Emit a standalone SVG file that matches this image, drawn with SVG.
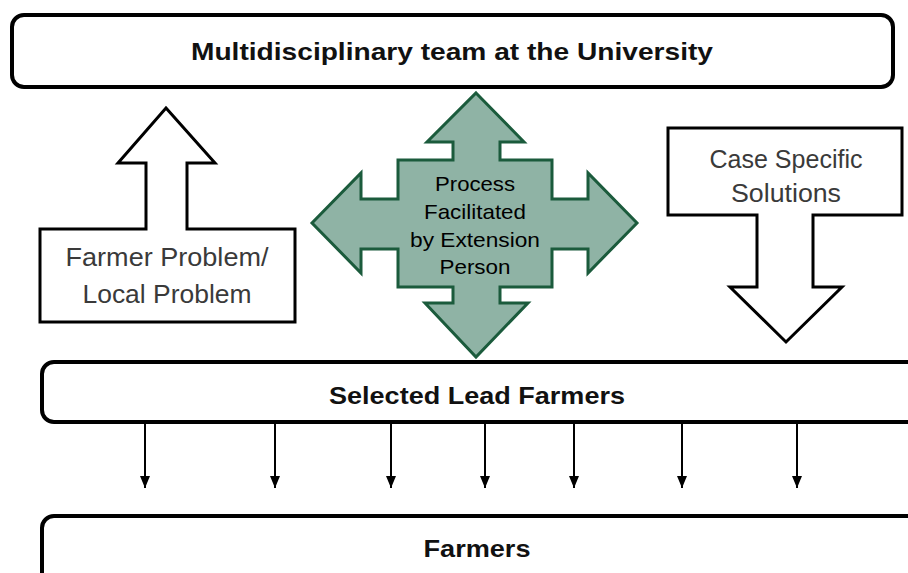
<svg xmlns="http://www.w3.org/2000/svg" width="908" height="573" viewBox="0 0 908 573">
<style>
.box{fill:#fff;stroke:#000;stroke-width:4}
.bt{font-family:"Liberation Sans",Arial,sans-serif;font-weight:bold;font-size:24px;fill:#111;text-anchor:middle}
.gt{font-family:"Liberation Sans",Arial,sans-serif;font-size:25px;fill:#3a3a3a;text-anchor:middle}
.ct{font-family:"Liberation Sans",Arial,sans-serif;font-size:21px;fill:#000;text-anchor:middle}
.ha{fill:#fff;stroke:#000;stroke-width:3;stroke-linejoin:miter}
.conn{stroke:#000;stroke-width:2;fill:none}
</style>
<defs>
<marker id="ah" viewBox="0 0 12 10" refX="12" refY="5" markerWidth="12" markerHeight="10" markerUnits="userSpaceOnUse" orient="auto">
<path d="M0,0 L12,5 L0,10 Z" fill="#000"/>
</marker>
</defs>
<rect width="908" height="573" fill="#fff"/>
<g id="university">
<rect class="box" x="12" y="15" width="881" height="72" rx="12"/>
<text class="bt" x="452" y="60" textLength="522" lengthAdjust="spacingAndGlyphs">Multidisciplinary team at the University</text>
</g>
<g id="farmer-problem">
<polygon class="ha" points="166,108 215,163 187,163 187,229 295,229 295,322 40,322 40,229 146,229 146,163 118,163"/>
<text class="gt" x="167" y="266" textLength="203" lengthAdjust="spacingAndGlyphs">Farmer Problem/</text>
<text class="gt" x="167" y="303" textLength="169" lengthAdjust="spacingAndGlyphs">Local Problem</text>
</g>
<g id="process">
<polygon points="476,93 524,142 500,142 500,160 552,160 552,199 588,199 588,173 637,223 588,273 588,249 552,249 552,287 500,287 500,303 528,303 476,357 425,303 453,303 453,287 398,287 398,249 361,249 361,273 312,223 361,173 361,199 398,199 398,160 453,160 453,142 427,142" fill="#8fb3a5" stroke="#1b5b3c" stroke-width="3"/>
<text class="ct" x="475" y="191" textLength="80" lengthAdjust="spacingAndGlyphs">Process</text>
<text class="ct" x="475" y="219" textLength="102" lengthAdjust="spacingAndGlyphs">Facilitated</text>
<text class="ct" x="475" y="247" textLength="130" lengthAdjust="spacingAndGlyphs">by Extension</text>
<text class="ct" x="475" y="274" textLength="71" lengthAdjust="spacingAndGlyphs">Person</text>
</g>
<g id="solutions">
<polygon class="ha" points="668,128 902,128 902,215 813,215 813,287 842,287 786,342 730,287 757,287 757,215 668,215"/>
<text class="gt" x="786" y="168" textLength="153" lengthAdjust="spacingAndGlyphs">Case Specific</text>
<text class="gt" x="786" y="202" textLength="110" lengthAdjust="spacingAndGlyphs">Solutions</text>
</g>
<g id="lead-farmers">
<rect class="box" x="42" y="362" width="890" height="60" rx="12"/>
<text class="bt" x="477" y="404" textLength="296" lengthAdjust="spacingAndGlyphs">Selected Lead Farmers</text>
</g>
<g id="farmers">
<rect class="box" x="42" y="516" width="890" height="80" rx="12"/>
<text class="bt" x="477" y="557" textLength="107" lengthAdjust="spacingAndGlyphs">Farmers</text>
</g>
<g id="connectors">
<line class="conn" x1="145" y1="424" x2="145" y2="488" marker-end="url(#ah)"/>
<line class="conn" x1="275" y1="424" x2="275" y2="488" marker-end="url(#ah)"/>
<line class="conn" x1="391" y1="424" x2="391" y2="488" marker-end="url(#ah)"/>
<line class="conn" x1="485" y1="424" x2="485" y2="488" marker-end="url(#ah)"/>
<line class="conn" x1="574" y1="424" x2="574" y2="488" marker-end="url(#ah)"/>
<line class="conn" x1="682" y1="424" x2="682" y2="488" marker-end="url(#ah)"/>
<line class="conn" x1="797" y1="424" x2="797" y2="488" marker-end="url(#ah)"/>
</g>
</svg>
